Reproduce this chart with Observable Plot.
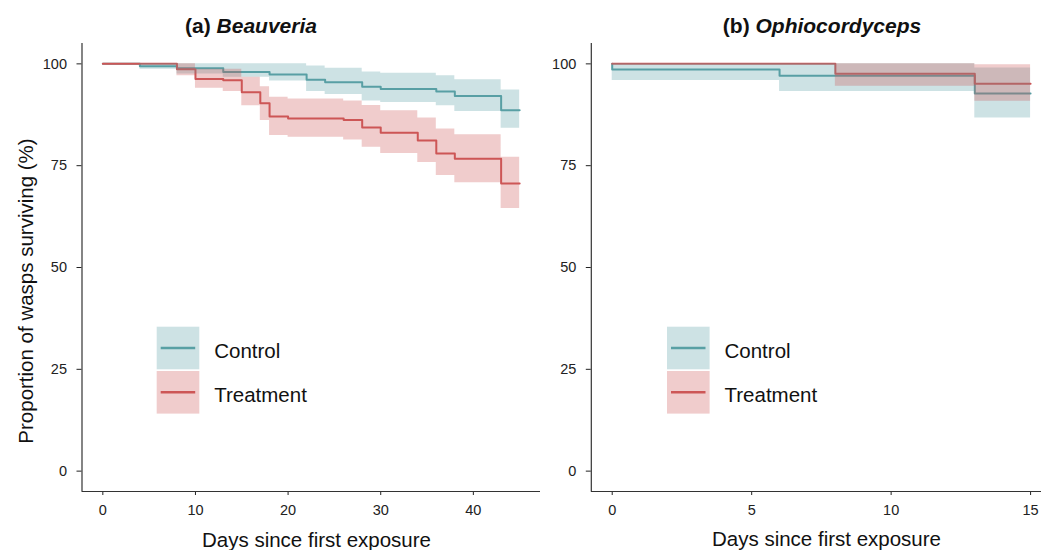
<!DOCTYPE html>
<html>
<head>
<meta charset="utf-8">
<script src="https://cdn.jsdelivr.net/npm/d3@7"></script>
<script src="https://cdn.jsdelivr.net/npm/@observablehq/plot@0.6"></script>
<style>
  body { margin: 0; background: #fff; }
  #wrap { position: relative; width: 1041px; height: 550px; overflow: hidden; background: #fff; }
</style>
</head>
<body>
<div id="wrap"></div>
<script>
// ---------- data ----------
const groups = ["Control", "Treatment"];
const groupColors = ["#58A0A4", "#CD5656"];
const yTicks = [0, 25, 50, 75, 100];
const beauXTicks = [0, 10, 20, 30, 40];
const ophioXTicks = [0, 5, 10, 15];

// (a) Beauveria
const beauControlDays  = [0, 4, 8, 13, 18, 22, 24, 28, 30, 36, 38, 43, 45];
const beauControlSurv  = [100, 99.4, 98.9, 98.0, 97.4, 96.1, 95.5, 94.4, 93.8, 93.2, 92.1, 88.6, 88.6];
const beauControlUpper = [100, 100, 100, 100, 100, 99.5, 98.9, 98.0, 97.7, 97.1, 96.1, 93.6, 93.6];
const beauControlLower = [100, 98.7, 97.5, 96.7, 95.8, 93.2, 92.5, 90.9, 90.5, 89.7, 88.3, 84.2, 84.2];

const beauTreatDays  = [0, 8, 10, 13, 15, 17, 18, 20, 26, 28, 30, 34, 36, 38, 43, 45];
const beauTreatSurv  = [100, 98.7, 96.3, 96.0, 93.0, 90.3, 87.1, 86.6, 86.2, 84.4, 83.1, 81.2, 78.0, 76.7, 70.6, 70.6];
const beauTreatUpper = [100, 100, 98.7, 98.7, 96.7, 94.4, 91.8, 91.4, 90.9, 89.8, 88.5, 86.7, 84.0, 82.6, 77.1, 77.1];
const beauTreatLower = [100, 97.1, 94.0, 93.2, 89.7, 86.1, 82.4, 82.0, 81.3, 79.5, 78.0, 75.8, 72.6, 70.8, 64.5, 64.5];

// (b) Ophiocordyceps
const ophioControlDays  = [0, 0, 6, 13, 15];
const ophioControlSurv  = [100, 98.6, 97.1, 92.7, 92.7];
const ophioControlUpper = [100, 100, 100, 99.0, 99.0];
const ophioControlLower = [100, 95.9, 93.2, 86.7, 86.7];

const ophioTreatDays  = [0, 8, 13, 15];
const ophioTreatSurv  = [100, 97.6, 95.1, 95.1];
const ophioTreatUpper = [100, 100, 99.8, 99.8];
const ophioTreatLower = [100, 94.5, 90.8, 90.8];

// ---------- helpers ----------
function rows(days, surv, lower, upper, group) {
  return days.map((d, i) => ({day: d, surv: surv[i], lower: lower[i], upper: upper[i], group}));
}

const FONT = "'Liberation Sans', Arial, Helvetica, sans-serif";

function panel(data, xDomain, xTicks, width, marginLeft, marginRight) {
  return Plot.plot({
    width, height: 550,
    marginTop: 43, marginBottom: 59, marginLeft, marginRight,
    style: {fontFamily: FONT, fontSize: "14.5px", color: "#222", background: "transparent", overflow: "visible"},
    x: {domain: xDomain, ticks: xTicks, tickSize: 4, tickPadding: 9, label: null},
    y: {domain: [-5, 105], ticks: yTicks, tickSize: 5, tickPadding: 10, label: null},
    color: {domain: groups, range: groupColors},
    marks: [
      Plot.ruleX([xDomain[0]], {stroke: "#333", strokeWidth: 1.2}),
      Plot.ruleY([-5], {stroke: "#333", strokeWidth: 1.2}),
      Plot.lineY(data, {x: "day", y: "surv", z: "group", stroke: "group", curve: "step-after", strokeWidth: 2}),
      Plot.areaY(data, {x: "day", y1: "lower", y2: "upper", z: "group", fill: "group", fillOpacity: 0.3, curve: "step-after"})
    ]
  });
}

const wrap = document.getElementById("wrap");

const beauData = rows(beauControlDays, beauControlSurv, beauControlLower, beauControlUpper, "Control")
  .concat(rows(beauTreatDays, beauTreatSurv, beauTreatLower, beauTreatUpper, "Treatment"));
const ophioData = rows(ophioControlDays, ophioControlSurv, ophioControlLower, ophioControlUpper, "Control")
  .concat(rows(ophioTreatDays, ophioTreatSurv, ophioTreatLower, ophioTreatUpper, "Treatment"));

const left = panel(beauData, [-2.25, 47.25], beauXTicks, 545, 81.5, 5);
left.style.position = "absolute"; left.style.left = "0px"; left.style.top = "0px";
wrap.appendChild(left);

const right = panel(ophioData, [-0.75, 15.75], ophioXTicks, 506, 45.8, 0);
right.style.position = "absolute"; right.style.left = "545px"; right.style.top = "0px";
wrap.appendChild(right);

// ---------- overlay: titles, axis titles, legends ----------
const ov = d3.select(wrap).append("svg")
  .attr("width", 1041).attr("height", 550)
  .style("position", "absolute").style("left", "0px").style("top", "0px")
  .style("pointer-events", "none")
  .style("font-family", FONT);

const titles = [
  {x: 251, pre: "(a) ", it: "Beauveria"},
  {x: 822, pre: "(b) ", it: "Ophiocordyceps"}
];
titles.forEach(t => {
  const tx = ov.append("text").attr("x", t.x).attr("y", 33)
    .attr("text-anchor", "middle").attr("font-size", 21).attr("font-weight", "bold").attr("fill", "#111");
  tx.append("tspan").text(t.pre);
  tx.append("tspan").attr("font-style", "italic").text(t.it);
});

[{x: 316.5, y: 547}, {x: 826.5, y: 546}].forEach(p => {
  ov.append("text").attr("x", p.x).attr("y", p.y).attr("text-anchor", "middle")
    .attr("font-size", 20.5).attr("fill", "#111").text("Days since first exposure");
});

ov.append("text").attr("transform", "translate(33,291) rotate(-90)")
  .attr("text-anchor", "middle").attr("font-size", 20.5).attr("fill", "#111")
  .text("Proportion of wasps surviving (%)");

[156.7, 667].forEach(lx => {
  groups.forEach((g, i) => {
    const by = 326.7 + i * 44.3;
    ov.append("rect").attr("x", lx).attr("y", by).attr("width", 42.6).attr("height", 42.6)
      .attr("fill", groupColors[i]).attr("fill-opacity", 0.3);
    ov.append("line").attr("x1", lx + 4).attr("x2", lx + 38.5)
      .attr("y1", by + 21.3).attr("y2", by + 21.3)
      .attr("stroke", groupColors[i]).attr("stroke-width", 2.5);
    ov.append("text").attr("x", lx + 57.5).attr("y", by + 31)
      .attr("font-size", 20.5).attr("fill", "#111").text(g);
  });
});
</script>
</body>
</html>
